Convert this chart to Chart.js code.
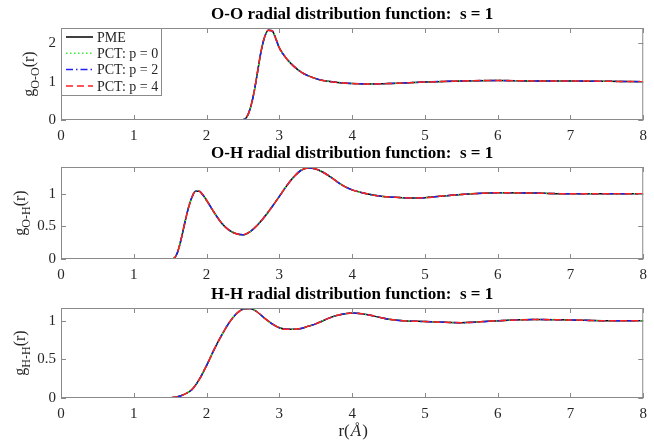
<!DOCTYPE html>
<html>
<head>
<meta charset="utf-8">
<script src="https://cdn.jsdelivr.net/npm/chart.js@4/dist/chart.umd.min.js"></script>
<style>
  body { margin: 0; background: #fff; }
  #wrap { position: relative; width: 654px; height: 440px; }
  canvas { position: absolute; left: 0; }
</style>
</head>
<body>
<div id="wrap">
  <canvas id="c0" width="654" height="160" style="top:0px"></canvas>
  <canvas id="c1" width="654" height="160" style="top:140px"></canvas>
  <canvas id="c2" width="654" height="160" style="top:280px"></canvas>
</div>
<script>
// r in Angstrom, g(r) (all four methods overlap)
const rOO = [0, 1, 2, 2.4, 2.45, 2.5, 2.55, 2.6, 2.65, 2.7, 2.75, 2.8, 2.85, 2.9, 2.95, 3.0, 3.1, 3.2, 3.3, 3.4, 3.5, 3.6, 3.8, 4.0, 4.2, 4.5, 5.0, 5.5, 6.0, 6.5, 7.0, 7.5, 8.0];
const gOO = [0, 0, 0, 0, 0.0, 0.01, 0.07, 0.3, 0.7, 1.25, 1.8, 2.18, 2.34, 2.33, 2.13, 1.88, 1.6, 1.4, 1.25, 1.15, 1.08, 1.03, 0.98, 0.95, 0.94, 0.95, 0.99, 1.02, 1.03, 1.02, 1.02, 1.01, 1.0];

const rOH = [0, 1, 1.5, 1.55, 1.6, 1.65, 1.7, 1.75, 1.8, 1.85, 1.9, 1.95, 2.0, 2.1, 2.2, 2.3, 2.4, 2.5, 2.6, 2.7, 2.8, 2.9, 3.0, 3.1, 3.2, 3.3, 3.4, 3.5, 3.6, 3.7, 3.8, 3.9, 4.0, 4.2, 4.4, 4.6, 4.8, 5.0, 5.2, 5.5, 6.0, 6.5, 7.0, 8.0];
const gOH = [0, 0, 0, 0.01, 0.1, 0.3, 0.55, 0.78, 0.95, 1.04, 1.04, 0.98, 0.9, 0.72, 0.56, 0.45, 0.39, 0.37, 0.42, 0.52, 0.65, 0.8, 0.96, 1.12, 1.26, 1.36, 1.395, 1.38, 1.33, 1.26, 1.18, 1.11, 1.06, 1.0, 0.96, 0.945, 0.935, 0.94, 0.96, 0.99, 1.015, 1.01, 1.0, 1.0];

const rHH = [0, 1, 1.4, 1.5, 1.6, 1.7, 1.8, 1.9, 2.0, 2.1, 2.2, 2.3, 2.4, 2.5, 2.6, 2.7, 2.8, 2.9, 3.0, 3.1, 3.2, 3.3, 3.4, 3.5, 3.6, 3.7, 3.8, 3.9, 4.0, 4.1, 4.2, 4.3, 4.4, 4.5, 4.7, 5.0, 5.5, 6.0, 6.5, 7.0, 7.5, 8.0];
const gHH = [0, 0, 0, 0.003, 0.015, 0.05, 0.11, 0.24, 0.42, 0.62, 0.8, 0.96, 1.08, 1.15, 1.16, 1.11, 1.03, 0.96, 0.91, 0.89, 0.89, 0.9, 0.93, 0.96, 1.0, 1.04, 1.07, 1.09, 1.1, 1.095, 1.08, 1.06, 1.04, 1.02, 1.0, 0.99, 0.975, 1.0, 1.015, 1.01, 1.0, 1.0];

const xTicks = [0, 1, 2, 3, 4, 5, 6, 7, 8];
const yTicksOO = [0, 1, 2];
const yTicksOH = [0, 0.5, 1];
const yTicksHH = [0, 0.5, 1];

const seriesNames = ['PME', 'PCT: p = 0', 'PCT: p = 2', 'PCT: p = 4'];
const seriesColors = ['#000000', '#33ee33', '#2222ee', '#ff2020'];
const seriesDash = [[], [1.5, 2.5], [7, 3, 1.5, 3], [7, 4]];

const SERIF = "'Liberation Serif', 'DejaVu Serif', serif";
const TXT = '#262626';

const panels = [
  { id: 'c0', title: 'O-O radial distribution function:  s = 1', sub: 'O-O', r: rOO, g: gOO, yMax: 2.4, yTicks: yTicksOO, top: 28, xh: 40, labX: 34, legend: true },
  { id: 'c1', title: 'O-H radial distribution function:  s = 1', sub: 'O-H', r: rOH, g: gOH, yMax: 1.41, yTicks: yTicksOH, top: 27, xh: 41, labX: 25 },
  { id: 'c2', title: 'H-H radial distribution function:  s = 1', sub: 'H-H', r: rHH, g: gHH, yMax: 1.165, yTicks: yTicksHH, top: 28, xh: 42, labX: 25, xlabel: true }
];

const decor = {
  id: 'decor',
  afterDatasetsDraw(chart, args, opts) {
    const ctx = chart.ctx;
    const a = chart.chartArea;
    const xs = chart.scales.x, ys = chart.scales.y;
    ctx.save();
    // box + inward ticks
    ctx.strokeStyle = '#8a8a8a';
    ctx.lineWidth = 1;
    ctx.strokeRect(a.left + 0.5, a.top + 0.5, a.right - a.left - 1, a.bottom - a.top - 1);
    ctx.beginPath();
    xTicks.forEach(v => {
      const px = Math.round(xs.getPixelForValue(v)) + 0.5;
      ctx.moveTo(px, a.bottom); ctx.lineTo(px, a.bottom - 5);
      ctx.moveTo(px, a.top); ctx.lineTo(px, a.top + 5);
    });
    opts.yTicks.forEach(v => {
      const py = Math.round(ys.getPixelForValue(v)) + 0.5;
      ctx.moveTo(a.left, py); ctx.lineTo(a.left + 5, py);
      ctx.moveTo(a.right, py); ctx.lineTo(a.right - 5, py);
    });
    ctx.stroke();

    // title
    ctx.fillStyle = '#000';
    ctx.font = 'bold 17px ' + SERIF;
    ctx.textAlign = 'center';
    ctx.textBaseline = 'middle';
    ctx.fillText(opts.title, (a.left + a.right) / 2, a.top - 13);

    // y label  g_{sub}(r)
    ctx.fillStyle = TXT;
    ctx.save();
    ctx.translate(opts.labX, (a.top + a.bottom) / 2);
    ctx.rotate(-Math.PI / 2);
    ctx.textAlign = 'left';
    ctx.textBaseline = 'alphabetic';
    const fMain = '16px ' + SERIF, fSub = '12px ' + SERIF;
    ctx.font = fMain; const w1 = ctx.measureText('g').width;
    ctx.font = fSub; const w2 = ctx.measureText(opts.sub).width;
    ctx.font = fMain; const w3 = ctx.measureText('(r)').width;
    const x0 = -(w1 + w2 + w3) / 2;
    ctx.font = fMain; ctx.fillText('g', x0, 0);
    ctx.font = fSub; ctx.fillText(opts.sub, x0 + w1, 5);
    ctx.font = fMain; ctx.fillText('(r)', x0 + w1 + w2, 0);
    ctx.restore();

    // x label r(Å)
    if (opts.xlabel) {
      ctx.textAlign = 'left';
      ctx.textBaseline = 'alphabetic';
      const n1 = '17px ' + SERIF, it = 'italic 17px ' + SERIF;
      ctx.font = n1; const a1 = ctx.measureText('r(').width;
      ctx.font = it; const a2 = ctx.measureText('Å').width;
      ctx.font = n1; const a3 = ctx.measureText(')').width;
      const sx = (a.left + a.right) / 2 - (a1 + a2 + a3) / 2;
      const by = a.bottom + 38;
      ctx.font = n1; ctx.fillText('r(', sx, by);
      ctx.font = it; ctx.fillText('Å', sx + a1 + 1, by);
      ctx.font = n1; ctx.fillText(')', sx + a1 + a2 + 2, by);
    }

    // legend
    if (opts.legend) {
      const lx = a.left, ly = a.top, lw = 101, lh = 68;
      ctx.fillStyle = '#fff';
      ctx.fillRect(lx, ly, lw, lh);
      ctx.strokeStyle = '#8a8a8a';
      ctx.strokeRect(lx + 0.5, ly + 0.5, lw - 1, lh - 1);
      ctx.font = '14px ' + SERIF;
      ctx.textBaseline = 'middle';
      ctx.textAlign = 'left';
      seriesNames.forEach((name, i) => {
        const yy = ly + 9 + i * 16.3;
        ctx.strokeStyle = seriesColors[i];
        ctx.lineWidth = 1.5;
        ctx.setLineDash(seriesDash[i]);
        ctx.beginPath();
        ctx.moveTo(lx + 5, yy); ctx.lineTo(lx + 32, yy);
        ctx.stroke();
        ctx.setLineDash([]);
        ctx.fillStyle = TXT;
        ctx.fillText(name, lx + 36, yy + 1);
      });
    }
    ctx.restore();
  }
};

panels.forEach(p => {
  const pts = p.r.map((x, i) => ({ x: x, y: p.g[i] }));
  const datasets = seriesNames.map((name, i) => ({
    label: name,
    data: pts,
    borderColor: seriesColors[i],
    borderDash: seriesDash[i],
    borderWidth: 1.5,
    pointRadius: 0,
    fill: false,
    cubicInterpolationMode: 'monotone',
    order: 3 - i
  }));
  new Chart(document.getElementById(p.id), {
    type: 'line',
    data: { datasets: datasets },
    plugins: [decor],
    options: {
      responsive: false,
      animation: false,
      layout: { padding: { top: p.top, right: 5, left: 0, bottom: 0 } },
      plugins: {
        legend: { display: false },
        tooltip: { enabled: false },
        decor: { title: p.title, sub: p.sub, yTicks: p.yTicks, labX: p.labX, legend: !!p.legend, xlabel: !!p.xlabel }
      },
      scales: {
        x: {
          type: 'linear', min: 0, max: 8,
          grid: { display: false, drawTicks: false }, border: { display: false },
          afterBuildTicks: s => { s.ticks = xTicks.map(v => ({ value: v })); },
          afterFit: s => { s.height = p.xh; },
          ticks: { font: { family: SERIF, size: 15 }, color: TXT, padding: 7, maxRotation: 0, callback: v => String(v) }
        },
        y: {
          min: 0, max: p.yMax,
          grid: { display: false, drawTicks: false }, border: { display: false },
          afterBuildTicks: s => { s.ticks = p.yTicks.map(v => ({ value: v })); },
          afterFit: s => { s.width = 61; },
          ticks: { font: { family: SERIF, size: 15 }, color: TXT, padding: 5, callback: v => String(v) }
        }
      }
    }
  });
});
</script>
</body>
</html>
